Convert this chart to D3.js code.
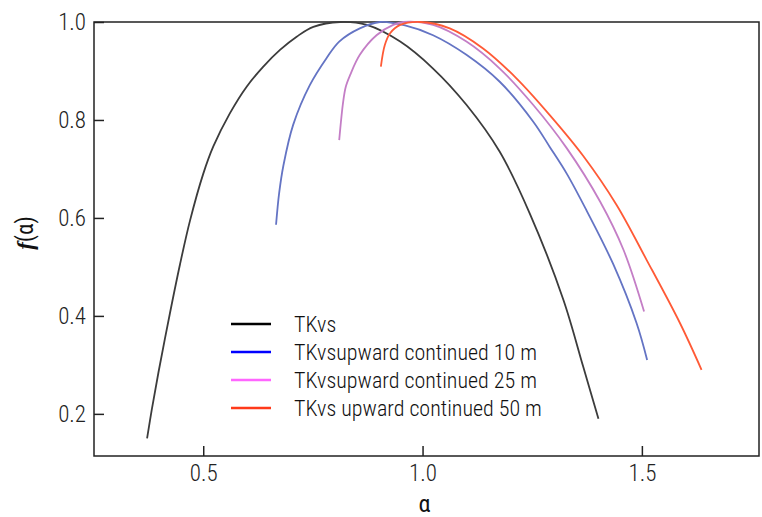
<!DOCTYPE html>
<html>
<head>
<meta charset="utf-8">
<script src="https://cdn.jsdelivr.net/npm/d3@7"></script>
<style>
  html, body { margin: 0; padding: 0; background: #fff; }
  svg { display: block; }
</style>
</head>
<body>
<div id="chart"></div>
<script>
(function () {
  "use strict";

  // ── Datos ───────────────────────────────────────────────
  const tkvsX = [0.372, 0.383, 0.398, 0.424, 0.447, 0.470, 0.500, 0.523, 0.561, 0.599, 0.637, 0.675, 0.713, 0.751, 0.812, 0.873, 0.949, 1.024, 1.100, 1.176, 1.245, 1.321, 1.366, 1.401];
  const tkvsY = [0.150, 0.210, 0.285, 0.405, 0.505, 0.595, 0.690, 0.746, 0.814, 0.868, 0.909, 0.943, 0.970, 0.990, 1.000, 0.994, 0.960, 0.905, 0.831, 0.735, 0.608, 0.433, 0.297, 0.190];

  const up10X = [0.666, 0.673, 0.683, 0.705, 0.743, 0.781, 0.810, 0.857, 0.903, 0.960, 1.024, 1.100, 1.176, 1.252, 1.290, 1.329, 1.374, 1.435, 1.488, 1.512];
  const up10Y = [0.586, 0.650, 0.708, 0.790, 0.871, 0.926, 0.960, 0.987, 1.000, 0.993, 0.973, 0.933, 0.878, 0.797, 0.745, 0.690, 0.615, 0.505, 0.385, 0.310];

  const up25X = [0.810, 0.819, 0.825, 0.835, 0.857, 0.895, 0.933, 0.956, 1.024, 1.100, 1.176, 1.252, 1.329, 1.405, 1.458, 1.505];
  const up25Y = [0.759, 0.837, 0.868, 0.892, 0.933, 0.973, 0.994, 1.000, 0.994, 0.960, 0.905, 0.831, 0.742, 0.633, 0.535, 0.409];

  const up50X = [0.905, 0.914, 0.926, 0.949, 0.994, 1.062, 1.138, 1.214, 1.290, 1.366, 1.442, 1.511, 1.587, 1.636];
  const up50Y = [0.909, 0.953, 0.977, 0.994, 1.000, 0.987, 0.946, 0.885, 0.810, 0.727, 0.627, 0.514, 0.385, 0.290];

  const seriesLabels = ["TKvs", "TKvsupward continued 10 m", "TKvsupward continued 25 m", "TKvs upward continued 50 m"];
  const lineColors = ["#3c3c3c", "#6474c4", "#c47ec6", "#ff5a36"];
  const legendColors = ["#000000", "#0000ff", "#ff66ff", "#ff3a1a"];

  const xTicks = [0.5, 1.0, 1.5];
  const yTicks = [0.2, 0.4, 0.6, 0.8, 1.0];

  // ── Configuración ──────────────────────────────────────
  const width = 762;
  const height = 517;
  const MARGIN = { top: 22, right: 3, bottom: 61, left: 94 };
  const FONT = "'Liberation Sans Narrow', 'Roboto Condensed', 'Arial Narrow', Roboto, sans-serif";
  const fmt = d3.format(".1f");

  const svg = d3.select("#chart").append("svg").attr("width", width).attr("height", height);

  const x = d3.scaleLinear().domain([0.251, 1.767]).range([MARGIN.left, width - MARGIN.right]);
  const y = d3.scaleLinear().domain([0.114, 1.0]).range([height - MARGIN.bottom, MARGIN.top]);

  // Marco
  svg.append("rect")
    .attr("x", x.range()[0]).attr("y", y.range()[1])
    .attr("width", x.range()[1] - x.range()[0]).attr("height", y.range()[0] - y.range()[1])
    .attr("fill", "none").attr("stroke", "#222").attr("stroke-width", 1.5);

  // Ejes con ticks hacia dentro
  const gX = svg.append("g").attr("transform", `translate(0,${y.range()[0]})`)
    .call(d3.axisBottom(x).tickValues(xTicks).tickSize(-10).tickPadding(8).tickFormat(fmt));
  const gY = svg.append("g").attr("transform", `translate(${x.range()[0]},0)`)
    .call(d3.axisLeft(y).tickValues(yTicks).tickSize(-10).tickPadding(8).tickFormat(fmt));

  [gX, gY].forEach((g) => {
    g.select(".domain").remove();
    g.selectAll(".tick line").attr("stroke", "#222").attr("stroke-width", 1.5);
    g.selectAll(".tick text").attr("font-family", FONT).attr("font-weight", 300).attr("font-size", "23px").attr("fill", "#222");
  });
  gX.selectAll(".tick text").attr("dy", "0.75em");

  // Curvas
  const allSeries = [
    { xs: tkvsX, ys: tkvsY },
    { xs: up10X, ys: up10Y },
    { xs: up25X, ys: up25Y },
    { xs: up50X, ys: up50Y },
  ];

  const line = d3.line()
    .x((d) => x(d[0]))
    .y((d) => y(d[1]))
    .curve(d3.curveCatmullRom.alpha(0.5));

  svg.append("g").selectAll("path")
    .data(allSeries)
    .join("path")
    .attr("d", (s) => line(d3.zip(s.xs, s.ys)))
    .attr("fill", "none")
    .attr("stroke", (s, i) => lineColors[i])
    .attr("stroke-width", 1.8);

  // Leyenda
  const legend = svg.append("g").attr("transform", "translate(231,324)");
  const rowH = 28;
  seriesLabels.forEach((label, i) => {
    legend.append("line")
      .attr("x1", 0).attr("x2", 40)
      .attr("y1", i * rowH).attr("y2", i * rowH)
      .attr("stroke", legendColors[i]).attr("stroke-width", 2.5);
    legend.append("text")
      .attr("x", 63).attr("y", i * rowH).attr("dy", "0.35em")
      .attr("font-family", FONT).attr("font-weight", 300).attr("font-size", "22px").attr("fill", "#111")
      .text(label);
  });

  // Títulos de ejes
  svg.append("text")
    .attr("x", (x.range()[0] + x.range()[1]) / 2 - 2).attr("y", 512)
    .attr("text-anchor", "middle")
    .attr("font-family", FONT).attr("font-size", "24px").attr("fill", "#111")
    .text("α");

  const yLab = svg.append("text")
    .attr("transform", "translate(33,233) rotate(-90)")
    .attr("text-anchor", "middle")
    .attr("font-family", FONT).attr("font-size", "23px").attr("fill", "#111");
  yLab.append("tspan").attr("font-family", "'Liberation Serif', serif").attr("font-style", "italic").attr("font-weight", "bold").text("f");
  yLab.append("tspan").text("(α)");
})();
</script>
</body>
</html>
